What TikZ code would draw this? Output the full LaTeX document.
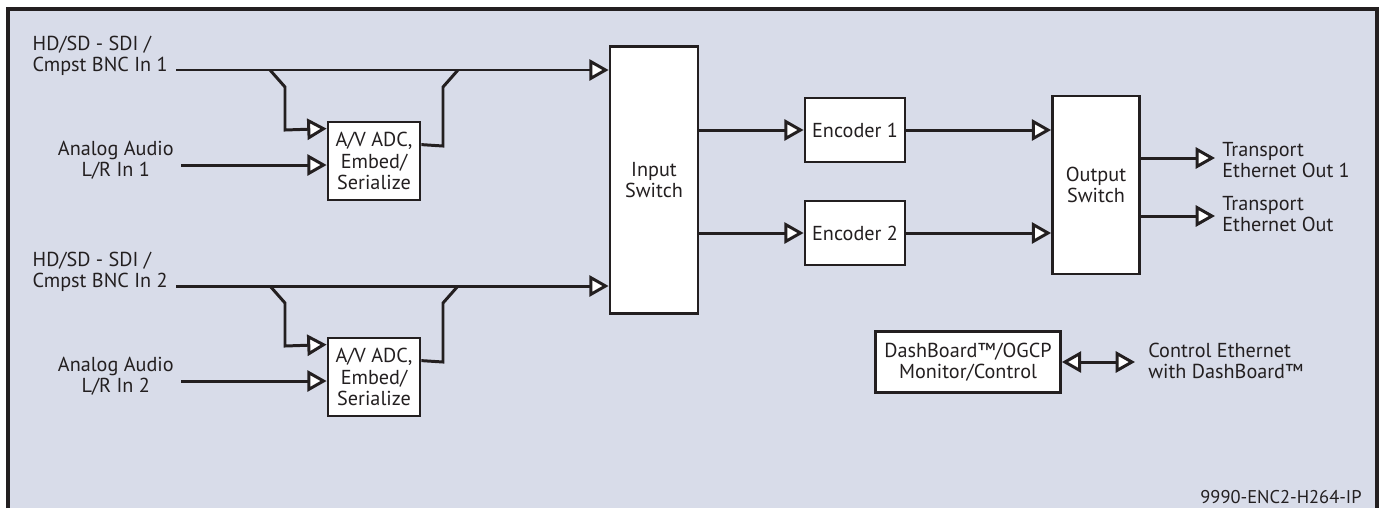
\documentclass[tikz,border=0pt]{standalone}
\usepackage{fontspec}
\setmainfont{PT Sans}
\usetikzlibrary{arrows.meta, calc}
\definecolor{mybg}{RGB}{216,220,233}
\definecolor{myline}{RGB}{35,31,32}

\begin{document}
\begin{tikzpicture}[x=0.02cm, y=-0.02cm, text=myline,
 font=\fontsize{11.5}{12}\selectfont,
 blk/.style={draw=myline, fill=white, line width=1.6pt, align=center, inner sep=2pt},
 lbl/.style={align=center, inner sep=0pt},
 wire/.style={draw=myline, line width=1.7pt},
 flow/.style={wire, -{Triangle[fill=white, length=11pt, width=12pt]}}]

%background and frame
\useasboundingbox (0,0) rectangle (1379,508);
\fill[mybg] (8,9) rectangle (1377,508);
\draw[myline, line width=1.9pt] (8,508) -- (8,9) -- (1377,9) -- (1377,508);

%switches and encoders
\node[blk, minimum width=1.76cm, minimum height=5.34cm] (insw) at (654,180) {Input\\Switch};
\node[blk, minimum width=2cm, minimum height=1.28cm] (enc1) at (855,130) {Encoder 1};
\node[blk, minimum width=2cm, minimum height=1.28cm] (enc2) at (855,233) {Encoder 2};
\node[blk, minimum width=1.74cm, minimum height=3.56cm] (outsw) at (1096,185) {Output\\Switch};
\node[blk, minimum width=3.7cm, minimum height=1.22cm] (dash) at (968,362) {DashBoard™/OGCP\\Monitor/Control};

%inputs
\foreach \i/\dy in {1/0,2/216}{
 \node[blk, minimum width=1.84cm, minimum height=1.56cm] (adc\i) at (374,161+\dy) {A/V ADC,\\Embed/\\Serialize};
 \node[lbl, anchor=east, align=left] (bnc\i) at (168,56+\dy) {HD/SD - SDI /\\Cmpst BNC In \i};
 \node[lbl, anchor=east] (aud\i) at (174,160+\dy) {Analog Audio\\L/R In \i};
 \coordinate (bncin\i) at (176,70+\dy);
 \coordinate (audin\i) at (181,165+\dy);
 \draw[flow] (bncin\i) -- (insw.west |- bncin\i);
 \draw[flow] (audin\i) -- (adc\i.west |- audin\i);
 \draw[flow] (270,70+\dy) -- (285,87+\dy) -- (285,130+\dy) -- ($(adc\i.north west)+(0,8)$);
 \draw[wire] ($(adc\i.north east)+(0,24)$) -- (443,146+\dy) -- (443,87+\dy) -- (458,70+\dy);
}

%encoder paths
\draw[flow] (insw.east |- enc1.west) -- (enc1.west);
\draw[flow] (insw.east |- enc2.west) -- (enc2.west);
\draw[flow] (enc1.east) -- (outsw.west |- enc1.east);
\draw[flow] (enc2.east) -- (outsw.west |- enc2.east);

%outputs
\coordinate (tout1) at (1215,158);
\coordinate (tout2) at (1215,216);
\draw[flow] (outsw.east |- tout1) -- (tout1);
\draw[flow] (outsw.east |- tout2) -- (tout2);
\node[lbl, anchor=west, align=left] (tlab1) at (1222,160) {Transport\\Ethernet Out 1};
\node[lbl, anchor=west, align=left] (tlab2) at (1222,214) {Transport\\Ethernet Out};

%control
\coordinate (ctl) at (1135,362);
\draw[wire, {Triangle[fill=white, length=11pt, width=12pt]}-{Triangle[fill=white, length=11pt, width=12pt]}] (dash.east) -- (ctl);
\node[lbl, anchor=west, align=left] (ctllab) at (1148,361) {Control Ethernet\\with DashBoard™};

\node[lbl, anchor=base east, font=\fontsize{10.5}{12}\selectfont] (partno) at (1362,503) {9990-ENC2-H264-IP};

\end{tikzpicture}
\end{document}
